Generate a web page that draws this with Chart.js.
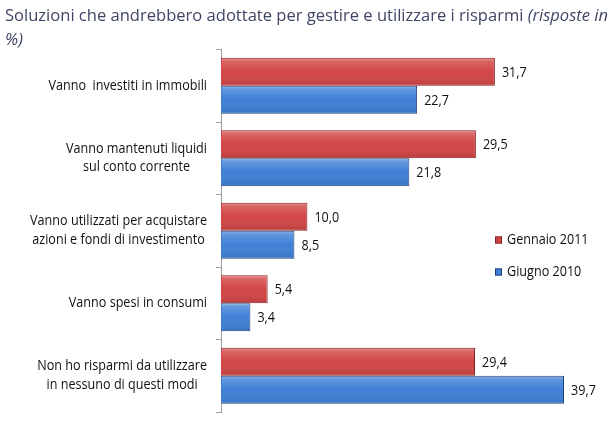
<!DOCTYPE html>
<html><head><meta charset="utf-8">
<script src="https://cdn.jsdelivr.net/npm/chart.js@4/dist/chart.umd.min.js"></script>
<style>html,body{margin:0;padding:0;background:#fff;} canvas{display:block;}</style>
</head><body>
<canvas id="c" width="610" height="424"></canvas>
<script>
// ---- data ----
const categories = [
  ["Vanno  investiti in immobili"],
  ["Vanno mantenuti liquidi", "sul conto corrente"],
  ["Vanno utilizzati per acquistare", "azioni e fondi di investimento"],
  ["Vanno spesi in consumi"],
  ["Non ho risparmi da utilizzare", "in nessuno di questi modi"]
];
const seriesNames = ["Gennaio 2011", "Giugno 2010"];
const gennaio2011 = [31.7, 29.5, 10.0, 5.4, 29.4];
const giugno2010 = [22.7, 21.8, 8.5, 3.4, 39.7];
const titleMain = "Soluzioni che andrebbero adottate per gestire e utilizzare i risparmi ";
const titleItalic1 = "(risposte in";
const titleItalic2 = "%)";

// ---- styles ----
const FONT = '"Open Sans", "Noto Sans", sans-serif';
const LABEL_FONT = '14px ' + FONT;
const COND = 0.9;
const TEXT_COLOR = '#111111';
const TITLE_COLOR = '#3f4565';
const RED = '#d24545', RED_BORDER = '#8a1f1f';
const BLUE = '#3f80d6', BLUE_BORDER = '#20407c';

function drawText(ctx, text, x, y, font, color, align, sx) {
  ctx.save();
  ctx.font = font;
  ctx.fillStyle = color;
  ctx.textBaseline = 'middle';
  ctx.textAlign = 'left';
  const w = ctx.measureText(text).width * sx;
  const x0 = align === 'right' ? x - w : (align === 'center' ? x - w / 2 : x);
  ctx.translate(x0, y);
  ctx.scale(sx, 1);
  ctx.fillText(text, 0, 0);
  ctx.restore();
  return w;
}
function fmt(v) { return v.toFixed(1).replace('.', ','); }

const customDraw = {
  id: 'customDraw',
  afterDatasetsDraw(chart) {
    const ctx = chart.ctx;
    // bar shading overlay
    chart.data.datasets.forEach((ds, di) => {
      const meta = chart.getDatasetMeta(di);
      meta.data.forEach((el) => {
        const p = el.getProps(['x', 'y', 'base', 'height'], true);
        const top = p.y - p.height / 2, h = p.height;
        const left = Math.min(p.base, p.x), w = Math.abs(p.x - p.base);
        const g = ctx.createLinearGradient(0, top, 0, top + h);
        g.addColorStop(0, 'rgba(255,255,255,0.45)');
        g.addColorStop(0.12, 'rgba(255,255,255,0.18)');
        g.addColorStop(0.5, 'rgba(255,255,255,0.0)');
        g.addColorStop(1, 'rgba(0,0,0,0.12)');
        ctx.save();
        ctx.fillStyle = g;
        ctx.fillRect(left + 1, top + 1, w - 2, h - 2);
        ctx.restore();
      });
    });
    // value labels
    chart.data.datasets.forEach((ds, di) => {
      const meta = chart.getDatasetMeta(di);
      meta.data.forEach((el, i) => {
        const p = el.getProps(['x', 'y'], true);
        drawText(ctx, fmt(ds.data[i]), p.x + 7, p.y + 1, LABEL_FONT, TEXT_COLOR, 'left', COND);
      });
    });
  },
  afterDraw(chart) {
    const ctx = chart.ctx;
    const yScale = chart.scales.y;
    // category labels
    categories.forEach((lines, i) => {
      const yc = yScale.getPixelForValue(i);
      ctx.save();
      ctx.font = LABEL_FONT;
      const widths = lines.map(l => ctx.measureText(l).width * COND);
      ctx.restore();
      const bw = Math.max(...widths);
      const right = 207;
      const cx = right - bw / 2;
      const lh = 18.5;
      const y0 = yc - (lines.length - 1) * lh / 2;
      lines.forEach((l, k) => drawText(ctx, l, cx, y0 + k * lh, LABEL_FONT, TEXT_COLOR, 'center', COND));
    });
    // legend
    const colors = [[RED, RED_BORDER], [BLUE, BLUE_BORDER]];
    const legY = [240, 272];
    seriesNames.forEach((name, k) => {
      const y = legY[k];
      ctx.save();
      ctx.fillStyle = colors[k][0];
      ctx.fillRect(495, y - 3.5, 7, 7);
      ctx.strokeStyle = colors[k][1];
      ctx.lineWidth = 1;
      ctx.strokeRect(495.5, y - 3, 6, 6);
      ctx.restore();
      drawText(ctx, name, 507, y + 0.5, LABEL_FONT, TEXT_COLOR, 'left', COND);
    });
    // title
    ctx.save();
    const fN = '17px ' + FONT, fI = 'italic 17px ' + FONT;
    ctx.font = fN; const w1 = ctx.measureText(titleMain).width;
    ctx.font = fI; const w2 = ctx.measureText(titleItalic1).width;
    ctx.restore();
    const sx = 603 / (w1 + w2);
    const tw = drawText(ctx, titleMain, 5, 16, fN, TITLE_COLOR, 'left', sx);
    drawText(ctx, titleItalic1, 5 + tw, 16, fI, TITLE_COLOR, 'left', sx);
    drawText(ctx, titleItalic2, 5, 40, fI, TITLE_COLOR, 'left', sx);
  }
};

new Chart(document.getElementById('c'), {
  type: 'bar',
  data: {
    labels: categories,
    datasets: [
      { label: seriesNames[0], data: gennaio2011, backgroundColor: RED, borderColor: RED_BORDER, borderWidth: 1 },
      { label: seriesNames[1], data: giugno2010, backgroundColor: BLUE, borderColor: BLUE_BORDER, borderWidth: 1 }
    ]
  },
  options: {
    indexAxis: 'y',
    responsive: false,
    animation: false,
    devicePixelRatio: 1,
    categoryPercentage: 0.77,
    barPercentage: 1.0,
    layout: { padding: { top: 49.5, bottom: 12, left: 0, right: 43.4 } },
    plugins: { legend: { display: false }, title: { display: false }, tooltip: { enabled: false } },
    scales: {
      x: { display: false, min: 0, max: 40 },
      y: {
        afterFit(scale) { scale.width = 221; },
        ticks: { display: false },
        grid: { display: true, drawOnChartArea: false, drawTicks: true, tickLength: 5, color: '#a0a0a0', offset: true },
        border: { display: true, color: '#a0a0a0', width: 1 }
      }
    }
  },
  plugins: [customDraw]
});
</script>
</body></html>
